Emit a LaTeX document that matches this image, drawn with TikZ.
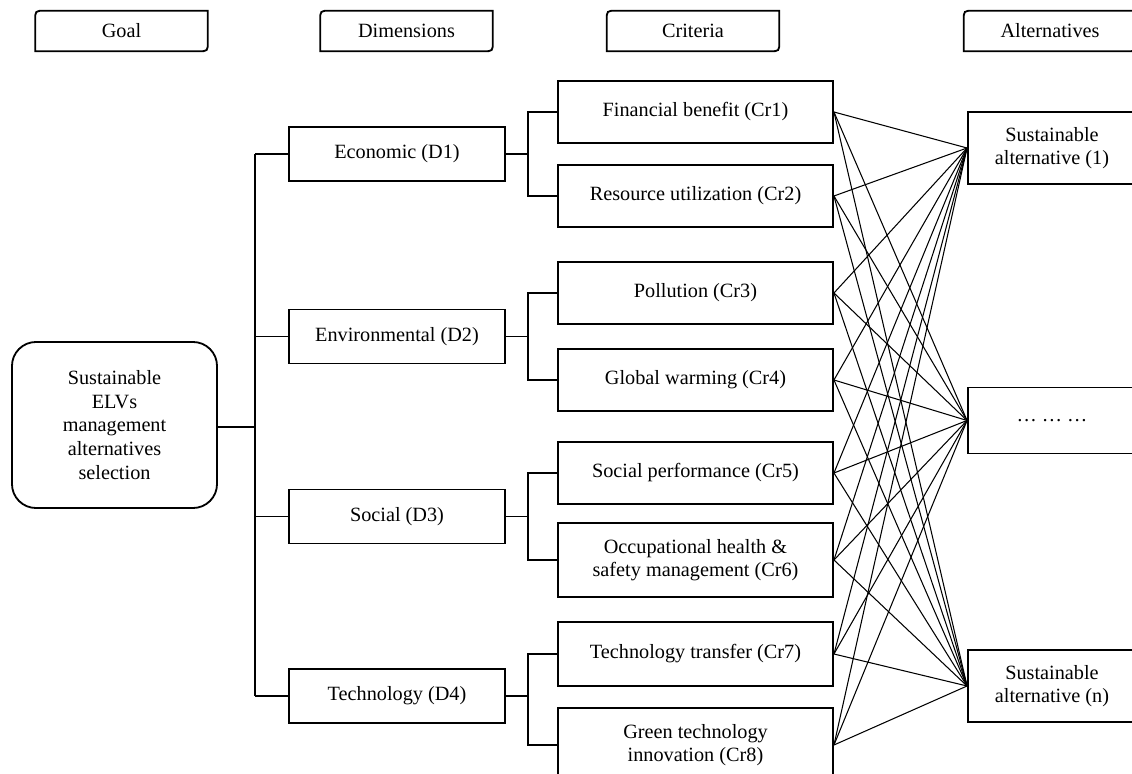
\documentclass[tikz,border=0pt]{standalone}
\usepackage{fontspec}
\setmainfont{Liberation Serif}
\usetikzlibrary{calc}
\tikzset{
  box/.style={draw,line width=1.3pt,inner sep=2pt,align=center,
              font=\fontsize{14.4}{16.8}\selectfont},
  dimbox/.style={box,minimum width=5.4cm,minimum height=1.35cm},
  critbox/.style={box,minimum width=6.875cm,minimum height=1.55cm},
  altbox/.style={box,minimum width=4.2cm,minimum height=1.8cm},
  goalbox/.style={box,rounded corners=0.6cm,minimum width=5.125cm,minimum height=4.15cm},
  headtxt/.style={inner sep=0pt,minimum width=4.3cm,minimum height=1cm,
                  font=\fontsize{14.4}{16.8}\selectfont},
  link/.style={line width=0.75pt},
}
% header box: rounded top-left and bottom-right corners only
\newcommand{\HeadBox}[3]{%
  \node[headtxt] (#1) at (#2) {#3};
  \draw[line width=1.3pt] (#1.south west) -- ([yshift=-7pt]#1.north west)
    .. controls (#1.north west) .. ([xshift=7pt]#1.north west) -- (#1.north east)
    -- ([yshift=7pt]#1.south east) .. controls (#1.south east) .. ([xshift=-7pt]#1.south east)
    -- cycle;}

\begin{document}
\begin{tikzpicture}[x=0.025cm,y=-0.025cm]
\useasboundingbox (0,0) rectangle (1132,774);

% column headers
\HeadBox{hGoal}{121.5,31}{Goal}
\HeadBox{hDim}{406.5,31}{Dimensions}
\HeadBox{hCrit}{693,31}{Criteria}
\HeadBox{hAlt}{1050,31}{Alternatives}

% goal
\node[goalbox] (goal) at (114.5,425) {Sustainable\\ELVs\\management\\alternatives\\selection};

% dimensions
\foreach \y/\t [count=\i] in {154/Economic (D1),336.5/Environmental (D2),
                             516.5/Social (D3),696/Technology (D4)}
  \node[dimbox] (D\i) at (397,\y) {\t};

% criteria
\foreach \y/\h/\t [count=\i] in {112/1.55/{Financial benefit (Cr1)},196/1.55/{Resource utilization (Cr2)},
    293/1.55/{Pollution (Cr3)},380/1.55/{Global warming (Cr4)},
    473/1.55/{Social performance (Cr5)},560/1.85/{Occupational health \&\\safety management (Cr6)},
    654/1.6/{Technology transfer (Cr7)},745/1.85/{Green technology\\innovation (Cr8)}}
  \node[critbox,minimum height=\h cm] (Cr\i) at (695.5,\y) {\t};

% alternatives
\node[altbox] (A1) at (1052,148) {Sustainable\\alternative (1)};
\node[altbox,minimum height=1.65cm] (A2) at (1052,420.5) {\dots\ \dots\ \dots};
\node[altbox] (An) at (1052,686) {Sustainable\\alternative (n)};

% goal -> dimensions
\coordinate (busA) at (255,427);
\draw[link] (goal.east |- busA) -- (busA);
\draw[link] (busA |- D1.west) -- (busA |- D4.west);
\foreach \i in {1,...,4}
  \draw[link] (D\i.west) -- (busA |- D\i.west);

% dimensions -> criteria
\coordinate (busB) at (528,0);
\foreach \i [evaluate=\i as \a using int(2*\i-1), evaluate=\i as \b using int(2*\i)] in {1,...,4}{
  \draw[link] (D\i.east) -- (busB |- D\i.east);
  \draw[link] (Cr\a.west) -- (busB |- Cr\a.west) -- (busB |- Cr\b.west) -- (Cr\b.west);
}

% criteria -> alternatives
\foreach \c in {1,...,8}
  \foreach \a in {A1,A2,An}
    \draw[link] (Cr\c.east) -- (\a.west);
\end{tikzpicture}
\end{document}
